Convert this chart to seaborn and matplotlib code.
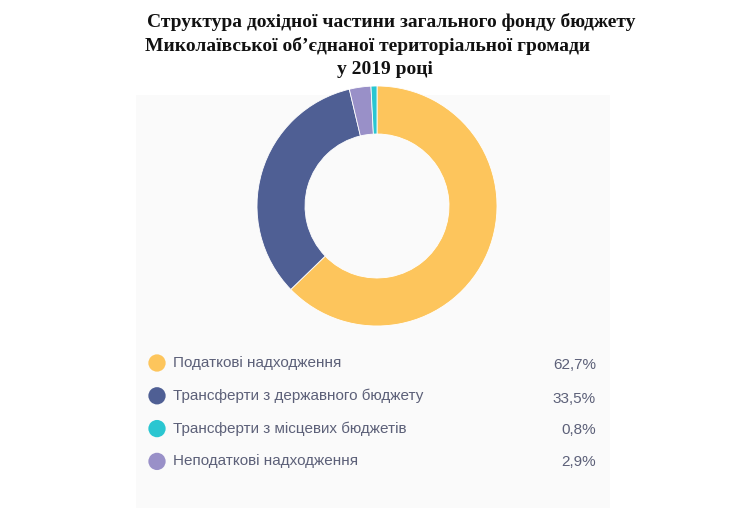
import matplotlib.pyplot as plt
import matplotlib.patches as mpatches
import seaborn as sns

# Дані
categories = ['Податкові надходження', 'Трансферти з державного бюджету',
              'Трансферти з місцевих бюджетів', 'Неподаткові надходження']
shares = [62.7, 33.5, 0.8, 2.9]
share_labels = ['62,7%', '33,5%', '0,8%', '2,9%']
colors = ['#fdc55c', '#4f5f94', '#2ac6d1', '#9990c8']

# порядок секторів на кільці (за годинниковою стрілкою від верху)
ring_order = [0, 1, 3, 2]

sns.set_theme(style="white")
plt.rcParams['font.family'] = ['Liberation Sans', 'DejaVu Sans']

fig = plt.figure(figsize=(7.5, 5.3), dpi=100)
W, H = 750, 530

# світла панель
overlay = fig.add_axes([0, 0, 1, 1])
overlay.set_xlim(0, W)
overlay.set_ylim(H, 0)
overlay.axis('off')
overlay.add_patch(mpatches.Rectangle((136, 95), 474, 413, facecolor='#fafafa',
                                     edgecolor='none', zorder=0))

# заголовок
title_font = dict(family='Liberation Serif', fontweight='bold', fontsize=14, color='#111111')
overlay.text(147, 22, 'Структура дохідної частини загального фонду бюджету',
             ha='left', va='center', **title_font)
overlay.text(145, 46, 'Миколаївської об’єднаної територіальної громади',
             ha='left', va='center', **title_font)
overlay.text(385, 69, 'у 2019 році', ha='center', va='center', **title_font)

# кільцева діаграма
cx, cy, r = 377, 206, 120
ax = fig.add_axes([(cx - r) / W, 1 - (cy + r) / H, 2 * r / W, 2 * r / H])
ax.pie([shares[i] for i in ring_order], colors=[colors[i] for i in ring_order],
       startangle=90, counterclock=False, radius=1,
       wedgeprops=dict(width=0.4, edgecolor='white', linewidth=0.6))
ax.set_xlim(-1, 1)
ax.set_ylim(-1, 1)
ax.axis('off')

# легенда
row_y0, row_step = 363, 32.8
pct_shift = [2, 3, 1, 1]
for i, (cat, lab, col) in enumerate(zip(categories, share_labels, colors)):
    y = row_y0 + i * row_step
    overlay.scatter([157], [y], s=155, color=col, edgecolor='none', zorder=3)
    overlay.text(173, y, cat, ha='left', va='center', fontsize=11, color='#5c6078')
    overlay.text(596, y + pct_shift[i], lab, ha='right', va='center',
                 fontsize=11, color='#5c6078')

fig.savefig('out.png', dpi=100, facecolor='white')
